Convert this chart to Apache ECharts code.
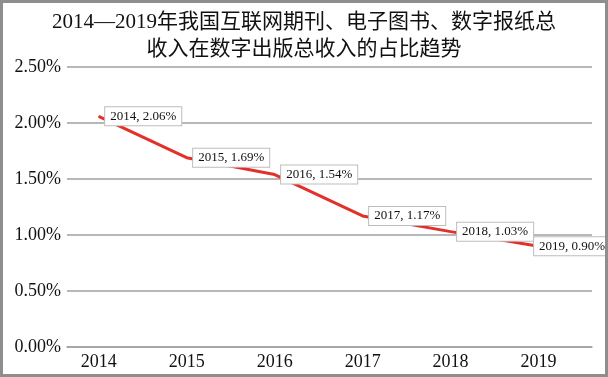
<!DOCTYPE html>
<html lang="zh">
<head>
    <meta charset="UTF-8">
    <title>占比趋势</title>
    <style>
        html, body { margin: 0; padding: 0; background: #fff; }
        #main { width: 608px; height: 377px; box-sizing: border-box; border: 3px solid #8e8e8e; }
    </style>
</head>
<body>
    <div id="main"></div>
    <script src="https://cdn.jsdelivr.net/npm/echarts@6/dist/echarts.min.js"></script>
    <script type="text/javascript">
        var years = [2014, 2015, 2016, 2017, 2018, 2019];
        var shares = [2.06, 1.69, 1.54, 1.17, 1.03, 0.90];
        var titleText = '2014—2019年我国互联网期刊、电子图书、数字报纸总\n收入在数字出版总收入的占比趋势';

        var serif = '"Liberation Serif", "Noto Sans CJK SC", serif';
        var myChart = echarts.init(document.getElementById('main'));

        // 数据点 [年份, 占比]；最后一个标签贴近右边框
        var points = years.map(function (y, i) {
            var item = { value: [y, shares[i]] };
            if (i === years.length - 1) {
                item.label = { distance: -5 };
            }
            return item;
        });

        var option = {
            animation: false,
            title: {
                text: titleText,
                left: 'center',
                top: 1,
                textStyle: {
                    fontFamily: serif,
                    fontWeight: 'normal',
                    fontSize: 21,
                    lineHeight: 27,
                    color: '#111'
                }
            },
            grid: {
                left: 61,
                right: 10,
                top: 64,
                bottom: 27
            },
            xAxis: {
                type: 'value',
                min: 2013.64,
                max: 2019.607,
                splitLine: { show: false },
                axisTick: { show: false },
                axisLine: { lineStyle: { color: '#a0a0a0', width: 1.5 } },
                axisLabel: {
                    customValues: years,
                    fontFamily: serif,
                    fontSize: 18,
                    color: '#111',
                    margin: 6,
                    formatter: function (v) { return String(v); }
                }
            },
            yAxis: {
                type: 'value',
                min: 0,
                max: 2.5,
                interval: 0.5,
                axisLine: { show: false },
                axisTick: { show: false },
                splitLine: { lineStyle: { color: '#a0a0a0', width: 1.5 } },
                axisLabel: {
                    fontFamily: serif,
                    fontSize: 18,
                    color: '#111',
                    margin: 6,
                    formatter: function (v) { return v.toFixed(2) + '%'; }
                }
            },
            series: [{
                type: 'line',
                data: points,
                symbol: 'circle',
                symbolSize: 1,
                itemStyle: { color: '#e3302a' },
                lineStyle: { color: '#e3302a', width: 3 },
                label: {
                    show: true,
                    position: 'right',
                    distance: 6,
                    fontFamily: serif,
                    fontSize: 13,
                    color: '#111',
                    backgroundColor: '#fff',
                    borderColor: '#bdbdbd',
                    borderWidth: 1,
                    padding: [3, 5, 2, 5],
                    formatter: function (p) {
                        return p.value[0] + ', ' + p.value[1].toFixed(2) + '%';
                    }
                }
            }]
        };
        option.grid.left = 64;
        option.grid.right = 13;
        myChart.setOption(option);
    </script>
</body>
</html>
